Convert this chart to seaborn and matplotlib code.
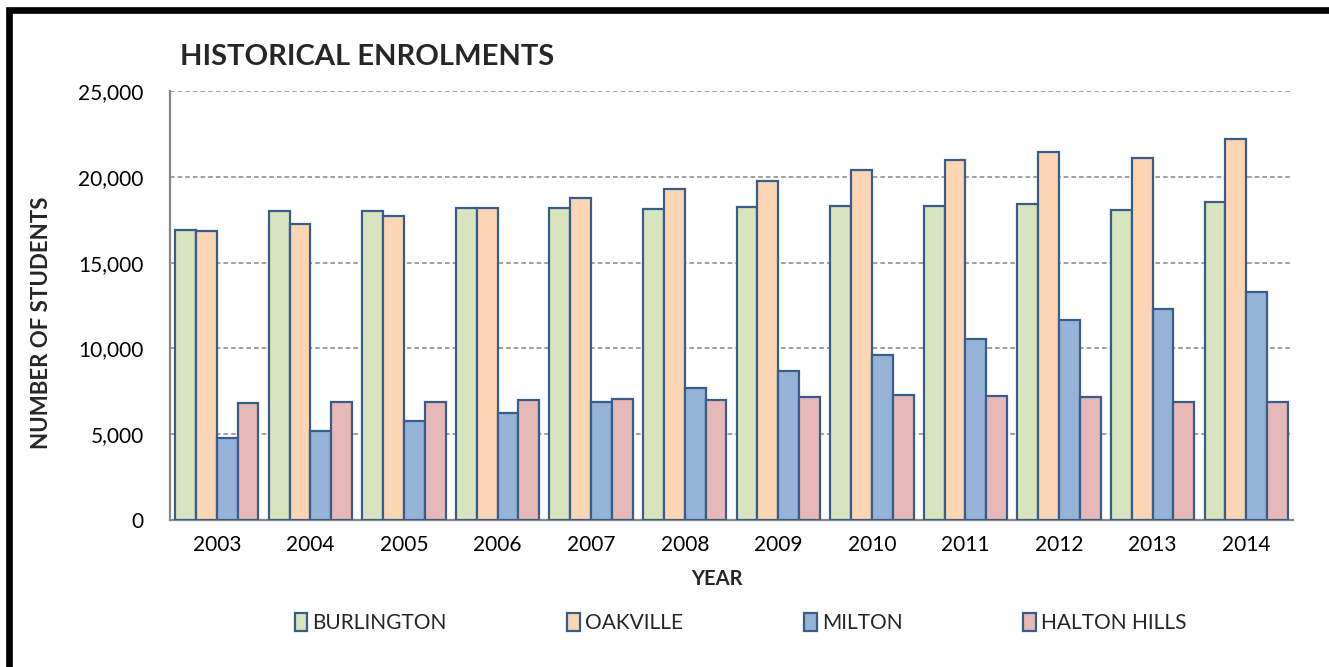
import matplotlib
matplotlib.use('Agg')
import matplotlib.pyplot as plt
from matplotlib.patches import Rectangle
from matplotlib.ticker import FuncFormatter, FixedLocator
import seaborn as sns
import pandas as pd

# Data
years = ['2003', '2004', '2005', '2006', '2007', '2008', '2009', '2010', '2011', '2012', '2013', '2014']
districts = ['BURLINGTON', 'OAKVILLE', 'MILTON', 'HALTON HILLS']
burlington = [16900, 18030, 17990, 18160, 18170, 18120, 18260, 18300, 18320, 18430, 18050, 18510]
oakville = [16860, 17270, 17740, 18200, 18750, 19300, 19780, 20380, 21000, 21450, 21100, 22220]
milton = [4800, 5210, 5770, 6250, 6900, 7710, 8700, 9630, 10570, 11680, 12280, 13270]
halton_hills = [6800, 6860, 6880, 7010, 7030, 7010, 7190, 7270, 7210, 7190, 6860, 6880]

colors = ['#D7E4BD', '#FCD5B5', '#95B3D7', '#E6B9B8']
edge = '#385D8A'
grey = '#868686'

df = pd.DataFrame({
    'year': years * 4,
    'district': [d for d in districts for _ in years],
    'students': burlington + oakville + milton + halton_hills,
})

sns.set_style('white')
plt.rcParams['font.family'] = ['Lato', 'DejaVu Sans']

fig = plt.figure(figsize=(13.29, 6.67), dpi=100)
ax = fig.add_axes([170 / 1329, 1 - 520 / 667, (1293 - 170) / 1329, (520 - 91) / 667])

sns.barplot(data=df, x='year', y='students', hue='district', hue_order=districts,
            palette=colors, saturation=1, width=0.89, edgecolor=edge, linewidth=1.6,
            errorbar=None, ax=ax, zorder=3)

ax.set_xlim(-0.5, len(years) - 0.5)
ax.set_ylim(0, 25000)
ax.set_yticks(range(0, 25001, 5000))
ax.yaxis.set_major_formatter(FuncFormatter(lambda v, p: f'{int(v):,}'))
ax.yaxis.grid(True, linestyle=(0, (3, 2)), color=grey, linewidth=1.1, zorder=0)
ax.xaxis.grid(False)

for s in ['top', 'right']:
    ax.spines[s].set_visible(False)
for s in ['left', 'bottom']:
    ax.spines[s].set_color(grey)
    ax.spines[s].set_linewidth(1.6)

ax.tick_params(axis='x', which='major', length=0, labelsize=15, pad=11, colors='black')
ax.xaxis.set_minor_locator(FixedLocator([i - 0.5 for i in range(len(years) + 1)]))
ax.tick_params(axis='x', which='minor', length=6, width=1.3, color=grey, direction='out')
ax.tick_params(axis='y', length=6, width=1.3, color=grey, labelsize=15, pad=13, labelcolor='black')

ax.set_xlabel('YEAR', fontsize=14.5, fontweight='bold')
ax.xaxis.set_label_coords((717 - 170) / (1293 - 170), -49 / 429)
ax.set_ylabel('NUMBER OF STUDENTS', fontsize=16, fontweight='bold')
ax.yaxis.set_label_coords((52 - 170) / (1293 - 170), (520 - 323) / 429)

handles, labels = ax.get_legend_handles_labels()
leg = ax.legend(handles, labels, loc='center', bbox_to_anchor=(0.508, -0.24), ncol=4,
                frameon=False, fontsize=15, handlelength=0.6, handleheight=1.0,
                handletextpad=0.25, columnspacing=5.8)

fig.text(180 / 1329, 1 - 57 / 667, 'HISTORICAL ENROLMENTS', fontsize=21,
         fontweight='bold', va='center', ha='left')

# black frame around the chart area
fig.add_artist(Rectangle((8.5 / 1329, -0.2), 1.2, 1.2 - 9.5 / 667,
                         transform=fig.transFigure, fill=False,
                         edgecolor='black', linewidth=4.8))

fig.savefig('out.png', dpi=100, facecolor='white')
